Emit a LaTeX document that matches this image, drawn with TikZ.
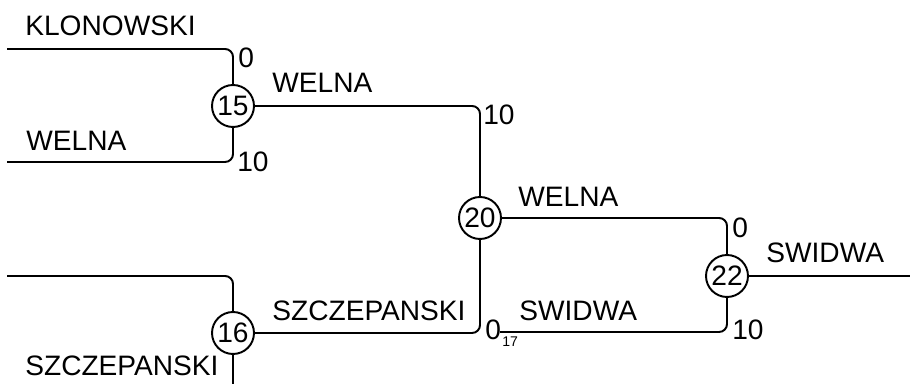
\documentclass[tikz,border=0pt]{standalone}
\usepackage{fontspec}
\setmainfont{Liberation Sans}
\begin{document}
\begin{tikzpicture}[x=0.02cm,y=-0.02cm,
roundnode/.style={circle, draw=black, fill=white, line width=1.1pt, minimum size=0.84cm, inner sep=0pt, font=\fontsize{16}{19}\selectfont},
txt/.style={anchor=base west, inner sep=0pt, font=\fontsize{16}{19}\selectfont},
smalltxt/.style={anchor=base west, inner sep=0pt, font=\fontsize{8}{10}\selectfont},
wire/.style={line width=1.1pt, rounded corners=4.5pt}
]
\useasboundingbox (0,0) rectangle (910,384);

    \coordinate (klon) at (7,49);
    \coordinate (wel) at (7,162);
    \coordinate (szc) at (7,276);
    \coordinate (szcb) at (233,386);
    \coordinate (s17) at (500,332);
    \coordinate (out) at (912,276);

    \node [roundnode] (n15) at (233,106) {15};
    \node [roundnode] (n16) at (233,333) {16};
    \node [roundnode] (n20) at (480,218) {20};
    \node [roundnode] (n22) at (727,276) {22};

    \draw [wire] (klon) -| (n15);
    \draw [wire] (wel) -| (n15);
    \draw [wire] (szc) -| (n16);
    \draw [wire] (n16) -- (szcb);
    \draw [wire] (n15) -| (n20);
    \draw [wire] (n16) -| (n20);
    \draw [wire] (n20) -| (n22);
    \draw [wire] (s17) -| (n22);
    \draw [wire] (n22) -- (out);

    % names on the lines
    \node [txt] (t1) at (25,36) {KLONOWSKI};
    \node [txt] (t2) at (26,151) {WELNA};
    \node [txt] (t3) at (25,376) {SZCZEPANSKI};
    \node [txt] (t4) at (272,93) {WELNA};
    \node [txt] (t5) at (272,321) {SZCZEPANSKI};
    \node [txt] (t6) at (518,207) {WELNA};
    \node [txt] (t7) at (519,321) {SWIDWA};
    \node [txt] (t8) at (766,263) {SWIDWA};

    % scores
    \node [txt] (s1) at (238,68) {0};
    \node [txt] (s2) at (237,172) {10};
    \node [txt] (s3) at (483,125) {10};
    \node [txt] (s4) at (485,340) {0};
    \node [smalltxt] (s5) at (502,347) {17};
    \node [txt] (s6) at (732,238) {0};
    \node [txt] (s7) at (732,340) {10};
\end{tikzpicture}
\end{document}
